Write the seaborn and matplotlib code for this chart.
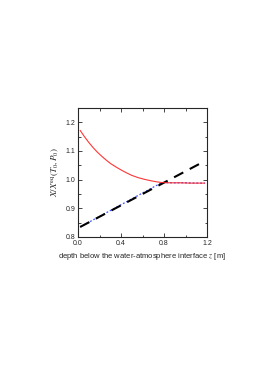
import matplotlib
matplotlib.use('Agg')
import matplotlib.pyplot as plt
from matplotlib.ticker import MultipleLocator
import seaborn as sns

# values
z_red = [0.02, 0.06, 0.10, 0.14, 0.18, 0.22, 0.26, 0.30, 0.35, 0.40, 0.45, 0.50, 0.56, 0.62, 0.68, 0.74, 0.78, 0.85, 0.95, 1.05, 1.18]
x_red = [1.172, 1.150, 1.130, 1.112, 1.096, 1.082, 1.069, 1.057, 1.045, 1.034, 1.024, 1.015, 1.007, 1.001, 0.996, 0.992, 0.990, 0.989, 0.989, 0.988, 0.988]

z_blue = [0.02, 0.78, 0.90, 1.00, 1.10, 1.18]
x_blue = [0.835, 0.990, 0.989, 0.989, 0.988, 0.988]

z_black = [0.02, 1.18]
x_black = [0.835, 1.065]

sns.set_style("ticks")
plt.rcParams['font.family'] = ['Liberation Sans', 'DejaVu Sans']
plt.rcParams['mathtext.fontset'] = 'stix'

fig = plt.figure(figsize=(2.66, 3.76), dpi=100)
ax = fig.add_axes([78 / 266, 1 - 237 / 376, 129 / 266, 129 / 376])

sns.lineplot(x=z_blue, y=x_blue, ax=ax, color='#4455ff', lw=0.9, linestyle=(0, (1.5, 1.5)))
sns.lineplot(x=z_black, y=x_black, ax=ax, color='black', lw=1.5, linestyle=(0, (5, 3.5)))
sns.lineplot(x=z_red, y=x_red, ax=ax, color='#ff2020', lw=0.8, alpha=0.9)

ax.set_xlim(0, 1.2)
ax.set_ylim(0.8, 1.25)
ax.xaxis.set_major_locator(MultipleLocator(0.4))
ax.xaxis.set_minor_locator(MultipleLocator(0.2))
ax.yaxis.set_major_locator(MultipleLocator(0.1))
ax.yaxis.set_minor_locator(MultipleLocator(0.05))
ax.set_xticklabels([f'{v:.1f}' for v in ax.get_xticks()])
ax.set_yticklabels([f'{v:.1f}' for v in ax.get_yticks()])
ax.tick_params(which='both', direction='in', top=True, right=True, labelsize=5, width=0.6, pad=2)
ax.tick_params(which='major', length=3)
ax.tick_params(which='minor', length=1.8)
for s in ax.spines.values():
    s.set_linewidth(0.8)

ax.set_xlabel('depth below the water-atmosphere interface $z$ [m]', fontsize=5.5, labelpad=3)
ax.set_ylabel(r'$X/X^{\mathrm{eq}}(T_0,P_0)$', fontsize=6.5, labelpad=3)

fig.savefig('out.png', dpi=100)
